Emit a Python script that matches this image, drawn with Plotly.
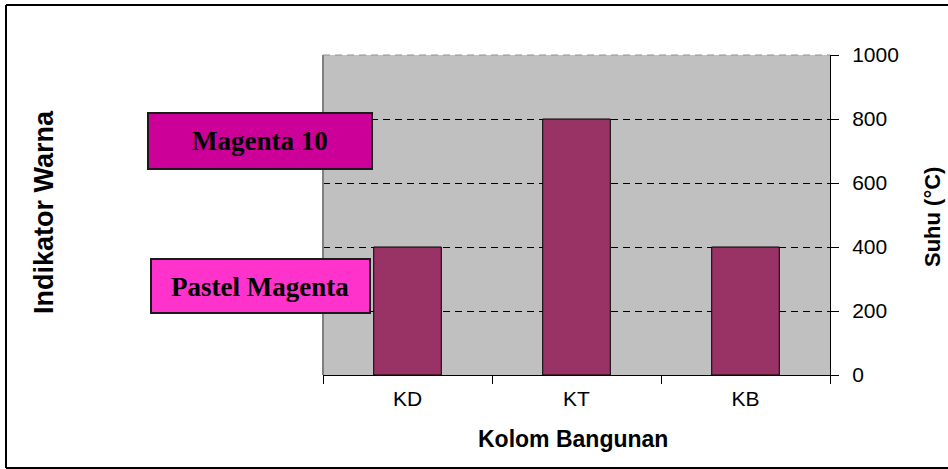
import plotly.graph_objects as go

# Data
kolom = ["KD", "KT", "KB"]
suhu = [400, 800, 400]
y_ticks = [0, 200, 400, 600, 800, 1000]

# Canvas and plot area (pixels)
W, H = 948, 469
L, R, T, B = 323, 830, 55, 375
PW, PH = R - L, B - T


def px(x):
    # pixel x -> paper x
    return (x - L) / PW


def py(y):
    # pixel y -> paper y
    return (B - y) / PH


sans = "Liberation Sans, Arial, sans-serif"
serif = "Liberation Serif, Times New Roman, serif"

fig = go.Figure()
fig.add_trace(go.Bar(
    x=kolom,
    y=suhu,
    marker=dict(color="#993366", line=dict(color="black", width=1)),
    showlegend=False,
))

fig.update_layout(
    width=W, height=H,
    margin=dict(l=L, r=W - R, t=T, b=H - B),
    paper_bgcolor="white",
    plot_bgcolor="#C0C0C0",
    bargap=0.6,
    font=dict(family=sans, size=21, color="black"),
)

fig.update_xaxes(
    type="category",
    showgrid=False,
    showline=True, linecolor="black", linewidth=1,
    ticks="outside", ticklen=8, tickcolor="black",
    tickson="boundaries",
    ticklabelstandoff=5,
    tickfont=dict(family=sans, size=21),
)

fig.update_yaxes(
    side="right",
    range=[0, 1000],
    tickvals=y_ticks,
    showgrid=True, gridcolor="black", gridwidth=1, griddash="7px,5px",
    zeroline=False,
    showline=True, linecolor="black", linewidth=1,
    ticks="outside", ticklen=8, tickcolor="black",
    ticklabelstandoff=9,
    tickfont=dict(family=sans, size=21),
)

border = dict(color="black", width=2)
shapes = [
    # outer chart border (top, left, bottom; right edge runs off the page)
    dict(type="line", xref="paper", yref="paper",
         x0=px(6), x1=px(948), y0=py(5), y1=py(5), line=border, layer="below"),
    dict(type="line", xref="paper", yref="paper",
         x0=px(6), x1=px(6), y0=py(5), y1=py(468), line=border, layer="below"),
    dict(type="line", xref="paper", yref="paper",
         x0=px(6), x1=px(948), y0=py(468), y1=py(468), line=border, layer="below"),
    # plot area left edge (gray)
    dict(type="line", xref="paper", yref="paper",
         x0=0, x1=0, y0=0, y1=1,
         line=dict(color="#808080", width=2), layer="above"),
    # plot area top edge (gray dashed)
    dict(type="line", xref="paper", yref="paper",
         x0=0, x1=1, y0=1, y1=1,
         line=dict(color="#909090", width=1, dash="7px,5px"), layer="above"),
    # colour indicator boxes
    dict(type="rect", xref="paper", yref="paper",
         x0=px(148), x1=px(372), y0=py(169), y1=py(113),
         fillcolor="#CC0099", line=dict(color="#1a1a1a", width=2), layer="above"),
    dict(type="rect", xref="paper", yref="paper",
         x0=px(151), x1=px(370), y0=py(313), y1=py(259),
         fillcolor="#FF33CC", line=dict(color="#1a1a1a", width=2), layer="above"),
]

annotations = [
    dict(text="<b>Magenta 10</b>", x=px(260), y=py(141), xref="paper", yref="paper",
         showarrow=False, xanchor="center", yanchor="middle",
         font=dict(family=serif, size=27, color="black")),
    dict(text="<b>Pastel Magenta</b>", x=px(260), y=py(287), xref="paper", yref="paper",
         showarrow=False, xanchor="center", yanchor="middle",
         font=dict(family=serif, size=27, color="black")),
    dict(text="<b>Indikator Warna</b>", x=px(44), y=py(212), xref="paper", yref="paper",
         showarrow=False, xanchor="center", yanchor="middle", textangle=-90,
         font=dict(family=sans, size=27, color="black")),
    dict(text="<b>Suhu (°C)</b>", x=px(932), y=py(217), xref="paper", yref="paper",
         showarrow=False, xanchor="center", yanchor="middle", textangle=-90,
         font=dict(family=sans, size=22, color="black")),
    dict(text="<b>Kolom Bangunan</b>", x=px(573), y=py(439), xref="paper", yref="paper",
         showarrow=False, xanchor="center", yanchor="middle",
         font=dict(family=sans, size=23, color="black")),
]

fig.update_layout(shapes=shapes, annotations=annotations)

# drop the default page margin so the figure sits at the window's corner
fig.write_html("out.html", config={"displayModeBar": False},
               post_script="document.body.style.margin='0';"
                           "document.body.style.overflow='hidden';")
